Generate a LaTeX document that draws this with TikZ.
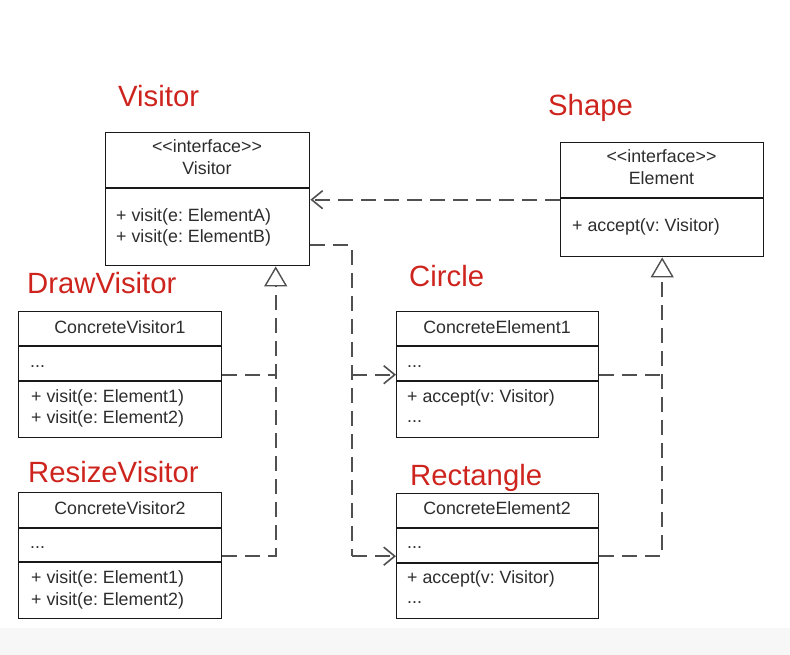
\documentclass[tikz,border=0pt]{standalone}
\usepackage{fontspec}
\setmainfont{Liberation Sans}
\usepackage{xcolor}
\usepackage{tikz}
\usetikzlibrary{arrows.meta}
\frenchspacing
\definecolor{rolered}{RGB}{206,36,30}
\definecolor{membergray}{RGB}{45,45,45}
\definecolor{depgray}{RGB}{80,80,80}
\tikzstyle{every node}=[inner sep=0pt]
\tikzstyle{classbox}=[draw=black!90,line width=1.4pt,anchor=north west]
\tikzstyle{divider}=[draw=black!90,line width=1.4pt]
\tikzstyle{member}=[text=membergray,font=\fontsize{17.8}{20}\selectfont,text height=12pt,text depth=3pt,anchor=west]
\tikzstyle{classname}=[member,anchor=center]
\tikzstyle{role}=[text=rolered,font=\fontsize{29.3}{31}\selectfont,anchor=base west]
\tikzstyle{dep}=[draw=depgray,line width=1.8pt,dash pattern=on 15pt off 8pt]
\tikzstyle{realize}=[dep,-{Triangle[open,length=20pt,width=23pt,line width=1.4pt]}]
\tikzstyle{uses}=[dep,-{Straight Barb[length=11pt,width=18pt,line width=1.6pt]}]

\begin{document}
\begin{tikzpicture}[x=1pt,y=-1pt]
	\useasboundingbox (0,0) rectangle (790,655);
	\fill[black!3] (0,628) rectangle (790,655);

	\node [role] (lblvisitor) at (118,107) {Visitor};
	\node [role] (lblshape) at (548,116) {Shape};
	\node [role] (lbldraw) at (27,294) {DrawVisitor};
	\node [role] (lblcircle) at (409,287) {Circle};
	\node [role] (lblresize) at (28,482) {ResizeVisitor};
	\node [role] (lblrect) at (410,485) {Rectangle};

	\node [classbox,minimum width=204pt,minimum height=133pt] (visitor) at (105,132) {};
	\draw [divider] (visitor.west |- 0,188) -- (visitor.east |- 0,188);
	\node [classname] (visitorstereo) at (207,148.5) {<{}<interface>{}>};
	\node [classname] (visitortitle) at (207,170.5) {Visitor};
	\node [member] (visitora) at (116,217) {+ visit(e: ElementA)};
	\node [member] (visitorb) at (116,238.5) {+ visit(e: ElementB)};

	\node [classbox,minimum width=203pt,minimum height=114pt] (element) at (560,142) {};
	\draw [divider] (element.west |- 0,198) -- (element.east |- 0,198);
	\node [classname] (elementstereo) at (661.5,158.5) {<{}<interface>{}>};
	\node [classname] (elementtitle) at (661.5,180.5) {Element};
	\node [member] (elementaccept) at (572,227.5) {+ accept(v: Visitor)};

	\node [classbox,minimum width=203pt,minimum height=126pt] (cvone) at (18,311) {};
	\draw [divider] (cvone.west |- 0,346) -- (cvone.east |- 0,346);
	\draw [divider] (cvone.west |- 0,381) -- (cvone.east |- 0,381);
	\node [classname] (cvonetitle) at (120,328.5) {ConcreteVisitor1};
	\node [member] (cvonedots) at (30,362.5) {...};
	\node [member] (cvonea) at (31,397.5) {+ visit(e: Element1)};
	\node [member] (cvoneb) at (31,418.5) {+ visit(e: Element2)};

	\node [classbox,minimum width=203pt,minimum height=126pt] (cvtwo) at (18,492) {};
	\draw [divider] (cvtwo.west |- 0,528) -- (cvtwo.east |- 0,528);
	\draw [divider] (cvtwo.west |- 0,562) -- (cvtwo.east |- 0,562);
	\node [classname] (cvtwotitle) at (120,510) {ConcreteVisitor2};
	\node [member] (cvtwodots) at (30,543.5) {...};
	\node [member] (cvtwoa) at (31,578.5) {+ visit(e: Element1)};
	\node [member] (cvtwob) at (31,600.5) {+ visit(e: Element2)};

	\node [classbox,minimum width=202pt,minimum height=126pt] (ceone) at (396,311) {};
	\draw [divider] (ceone.west |- 0,346) -- (ceone.east |- 0,346);
	\draw [divider] (ceone.west |- 0,381) -- (ceone.east |- 0,381);
	\node [classname] (ceonetitle) at (497,328.5) {ConcreteElement1};
	\node [member] (ceonedots) at (407,362.5) {...};
	\node [member] (ceoneaccept) at (407,397.5) {+ accept(v: Visitor)};
	\node [member] (ceonemore) at (407,417.5) {...};

	\node [classbox,minimum width=202pt,minimum height=125pt] (cetwo) at (396,493) {};
	\draw [divider] (cetwo.west |- 0,528) -- (cetwo.east |- 0,528);
	\draw [divider] (cetwo.west |- 0,563) -- (cetwo.east |- 0,563);
	\node [classname] (cetwotitle) at (497,509.5) {ConcreteElement2};
	\node [member] (cetwodots) at (407,543.5) {...};
	\node [member] (cetwoaccept) at (407,578.5) {+ accept(v: Visitor)};
	\node [member] (cetwomore) at (407,598.5) {...};

	\coordinate (bus) at (352,0);
	\coordinate (vtip) at ([xshift=68pt]visitor.south);

	\draw [uses] (element.west) -- (element.west -| visitor.east);
	\draw [dep] ([yshift=21pt]visitor.south east) -| (bus |- cetwo.west);
	\draw [uses] (bus |- ceone.west) -- (ceone.west);
	\draw [uses] (bus |- cetwo.west) -- (cetwo.west);
	\draw [realize] (cvtwo.east) -| (vtip);
	\draw [dep] (cvone.east) -- (cvone.east -| vtip);
	\draw [realize] (cetwo.east) -| (element.south);
	\draw [dep] (ceone.east) -- (ceone.east -| element.south);
\end{tikzpicture}
\end{document}
